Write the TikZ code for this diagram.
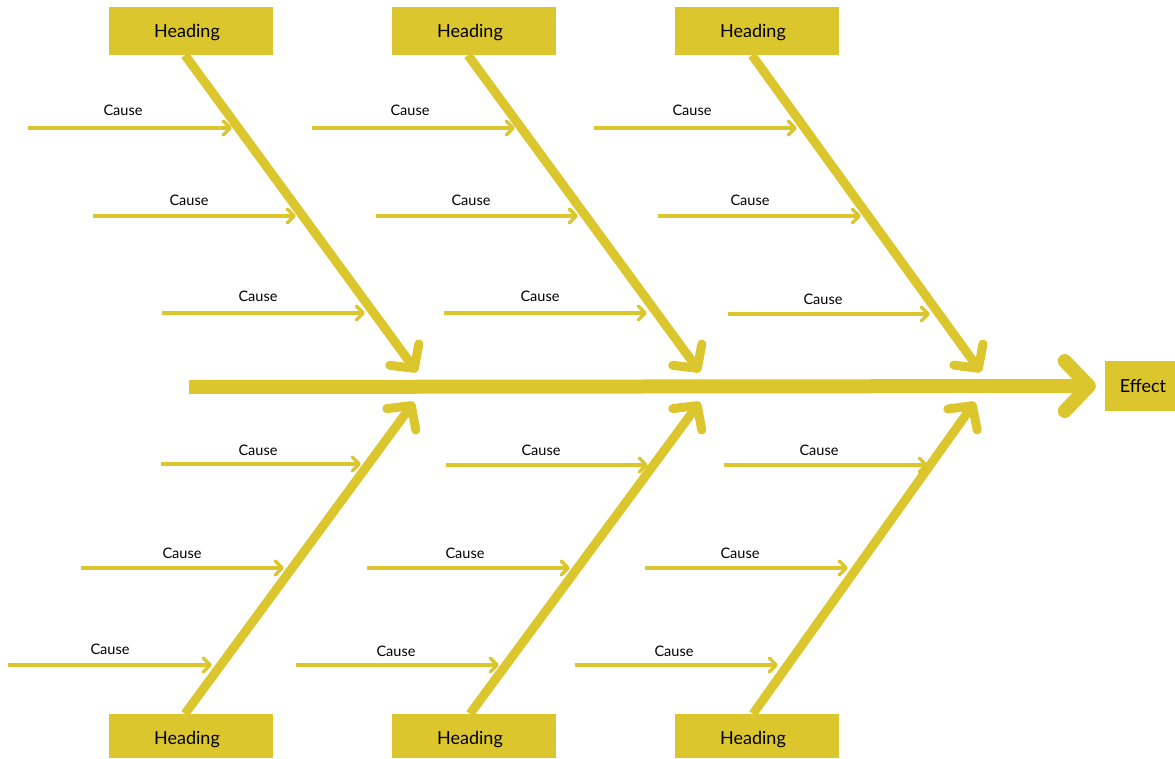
\documentclass[tikz,border=0pt]{standalone}
\usepackage{fontspec}
\setmainfont{Lato}
\usetikzlibrary{arrows.meta,calc}
\definecolor{yel}{RGB}{220,198,45}
\tikzset{
  head/.style={fill=yel,minimum width=164pt,minimum height=48pt,inner sep=0pt,text height=13pt,text depth=0pt,font=\fontsize{18}{20}\selectfont,text=black},
  headb/.style={head,minimum height=44pt,text height=17pt},
  effbox/.style={fill=yel,minimum width=70pt,minimum height=50pt,inner sep=0pt,text height=13pt,text depth=0pt,font=\fontsize{18}{20}\selectfont,text=black},
  lab/.style={font=\fontsize{14.5}{16}\selectfont,inner sep=0pt,text=black},
  spine/.style={draw=yel,line width=14pt,-{Straight Barb[length=24pt,width=50pt,round]}},
  bone/.style={draw=yel,line width=9pt,-{Straight Barb[length=17pt,width=36pt,round]}},
  cause/.style={draw=yel,line width=3.5pt,-{Straight Barb[length=7pt,width=14pt,round]}}
}
\newcommand{\hd}{Heading\hspace*{8pt}}
\begin{document}
\begin{tikzpicture}[x=1pt,y=-1pt]
\useasboundingbox (0,0) rectangle (1175,759);
% headings
\node[head] (t1) at (191,31) {\hd};
\node[head] (t2) at (474,31) {\hd};
\node[head] (t3) at (757,31) {\hd};
\node[headb] (b1) at (191,736) {\hd};
\node[headb] (b2) at (474,736) {\hd};
\node[headb] (b3) at (757,736) {\hd};
\node[effbox] (eff) at (1140,386) {Effect\hspace*{-6pt}};
% spine
\coordinate (s0) at (189,387);
\draw[spine] (s0) -- ([xshift=-9pt]eff.west);
% bones
\coordinate (tt1) at (417,372);
\coordinate (tt2) at (700,372);
\coordinate (tt3) at (981,372);
\coordinate (bt1) at (414,402);
\coordinate (bt2) at (700,402);
\coordinate (bt3) at (975,402);
\draw[bone] ([xshift=-6pt]t1.south) -- (tt1);
\draw[bone] ([xshift=-6pt]t2.south) -- (tt2);
\draw[bone] ([xshift=-5pt]t3.south) -- (tt3);
\draw[bone] ([xshift=-6pt]b1.north) -- (bt1);
\draw[bone] ([xshift=-4pt]b2.north) -- (bt2);
\draw[bone] ([xshift=-4pt]b3.north) -- (bt3);
% causes: start x, end x, y, label x, label y
\foreach \n/\xa/\xb/\y/\lx/\ly in {
  a1/28/232/128/123/110, a2/93/296/216/189/200, a3/162/365/313/258/296,
  a4/312/515/128/410/110, a5/376/578/216/471/200, a6/444/647/313/540/296,
  a7/594/797/128/692/110, a8/658/861/216/750/200, a9/728/930/314/823/299,
  b1/161/361/464/258/450, b2/81/284/568/182/553, b3/8/212/665/110/649,
  b4/446/648/465/541/450, b5/367/570/568/465/553, b6/296/499/665/396/651,
  b7/724/928/465/819/450, b8/645/848/568/740/553, b9/575/778/665/674/651}{
  \coordinate (\n s) at (\xa,\y);
  \coordinate (\n e) at (\xb,\y);
  \draw[cause] (\n s) -- (\n e);
  \node[lab] (\n l) at (\lx,\ly) {Cause};
}
\end{tikzpicture}
\end{document}
